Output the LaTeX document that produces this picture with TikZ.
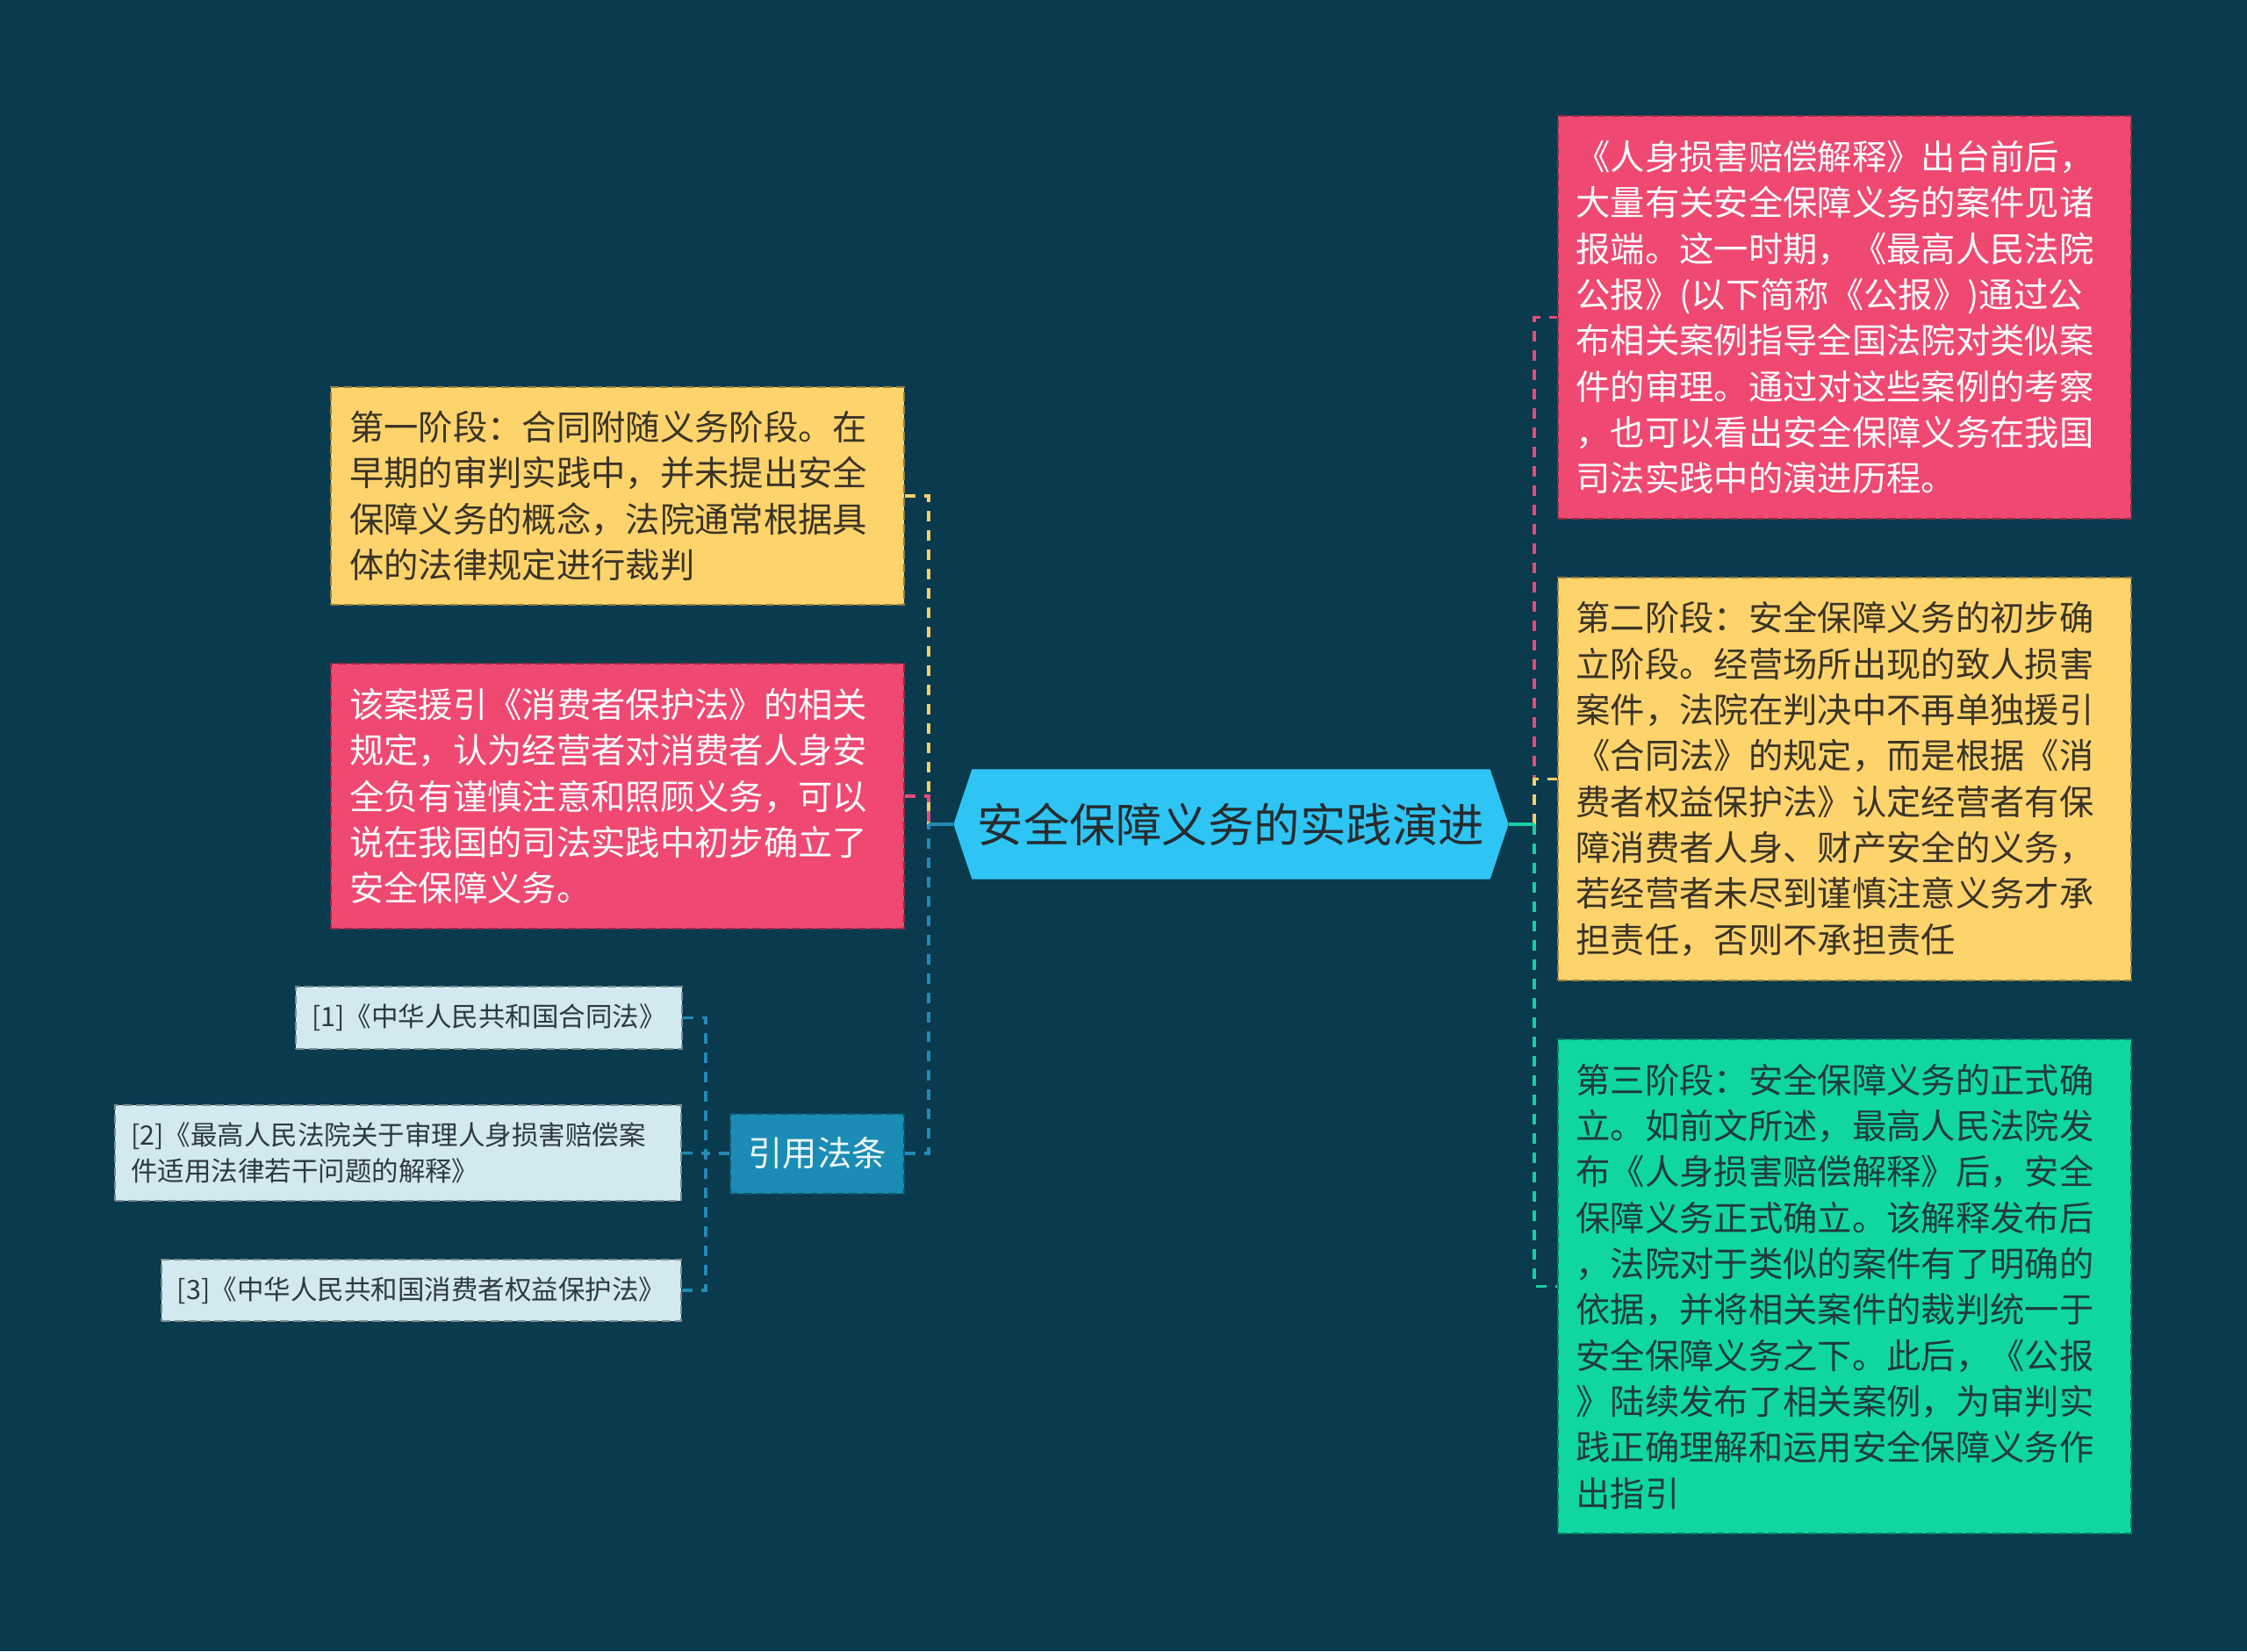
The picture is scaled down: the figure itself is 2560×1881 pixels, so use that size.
\documentclass[tikz,border=0pt]{standalone}
\usepackage{fontspec}
\setmainfont{Noto Sans CJK SC}
\usetikzlibrary{backgrounds}
\definecolor{bgc}{HTML}{093A4D}
\definecolor{yfill}{HTML}{FDD36C}
\definecolor{ytext}{HTML}{3A3426}
\definecolor{pfill}{HTML}{EF4971}
\definecolor{ptext}{HTML}{FFFFFF}
\definecolor{gfill}{HTML}{10D6A1}
\definecolor{gtext}{HTML}{1F3B3A}
\definecolor{hexfill}{HTML}{2EC5F4}
\definecolor{hextext}{HTML}{262C30}
\definecolor{citefill}{HTML}{1A8CB5}
\definecolor{citetext}{HTML}{EEF8FB}
\definecolor{reffill}{HTML}{D2E9F0}
\definecolor{reftext}{HTML}{2D3A40}
\definecolor{yconn}{HTML}{F7D06B}
\definecolor{pconn}{HTML}{E44B78}
\definecolor{bconn}{HTML}{2389B6}
\definecolor{gconn}{HTML}{18CFA0}
\tikzset{
  box/.style={rectangle, inner xsep=6.3pt, inner ysep=0pt, align=left,
    text width=183.3pt, minimum width=195.9pt,
    font=\fontsize{11.8pt}{15.7pt}\selectfont,
    dash pattern=on 3pt off 1.5pt, line width=0.6pt},
  ybox/.style={box, fill=yfill, draw=yfill!60!black, text=ytext},
  pbox/.style={box, fill=pfill, draw=pfill!60!black, text=ptext},
  gbox/.style={box, fill=gfill, draw=gfill!60!black, text=gtext},
  refbox/.style={rectangle, inner xsep=5.4pt, inner ysep=0pt, align=left,
    fill=reffill, draw=reffill!60!black, text=reftext,
    font=\fontsize{9.15pt}{12.3pt}\selectfont,
    dash pattern=on 3pt off 1.5pt, line width=0.6pt},
  citebox/.style={rectangle, inner sep=0pt, fill=citefill, draw=citefill!60!black,
    text=citetext, minimum width=59.4pt, minimum height=27.3pt,
    font=\fontsize{11.8pt}{14pt}\selectfont,
    dash pattern=on 3pt off 1.5pt, line width=0.6pt},
  hexnode/.style={rectangle, inner sep=0pt, minimum width=189.3pt, minimum height=37.2pt,
    text=hextext, font=\fontsize{15.75pt}{18pt}\selectfont},
  conn/.style={line width=1.05pt, dash pattern=on 3.6pt off 3pt},
  solidconn/.style={line width=1.2pt},
}
\begin{document}
\begin{tikzpicture}[x=0.3pt,y=-0.3pt]
\useasboundingbox (0,0) rectangle (2560,1881);
\begin{scope}[on background layer]
\fill[bgc] (0,0) rectangle (2560,1881);
\end{scope}

% central node
\node[hexnode] (hex) at (1402.5,939) {安全保障义务的实践演进};
\begin{scope}[on background layer]
\fill[hexfill] (hex.west) -- ([xshift=6.3pt]hex.north west) -- ([xshift=-6.3pt]hex.north east)
  -- (hex.east) -- ([xshift=-6.3pt]hex.south east) -- ([xshift=6.3pt]hex.south west) -- cycle;
\end{scope}

% left boxes
\node[ybox, minimum height=74.4pt] (L1) at (703.5,565) {第一阶段：合同附随义务阶段。在\\早期的审判实践中，并未提出安全\\保障义务的概念，法院通常根据具\\体的法律规定进行裁判};
\node[pbox, minimum height=90.6pt] (L2) at (703.5,907) {该案援引《消费者保护法》的相关\\规定，认为经营者对消费者人身安\\全负有谨慎注意和照顾义务，可以\\说在我国的司法实践中初步确立了\\安全保障义务。};
\node[citebox] (cite) at (931,1314) {引用法条};

% reference boxes
\node[refbox, minimum width=131.4pt, minimum height=21.3pt] (R1) at (557,1159.5) {[1]《中华人民共和国合同法》};
\node[refbox, text width=182.7pt, minimum width=193.5pt, minimum height=32.7pt] (R2) at (453.5,1313.5) {[2]《最高人民法院关于审理人身损害赔偿案\\件适用法律若干问题的解释》};
\node[refbox, minimum width=177.6pt, minimum height=21pt] (R3) at (480,1470) {[3]《中华人民共和国消费者权益保护法》};

% right boxes
\node[pbox, minimum height=137.7pt] (RP) at (2101,361.5) {《人身损害赔偿解释》出台前后，\\大量有关安全保障义务的案件见诸\\报端。这一时期，《最高人民法院\\公报》(以下简称《公报》)通过公\\布相关案例指导全国法院对类似案\\件的审理。通过对这些案例的考察\\，也可以看出安全保障义务在我国\\司法实践中的演进历程。};
\node[ybox, minimum height=137.7pt] (RY) at (2101,887.5) {第二阶段：安全保障义务的初步确\\立阶段。经营场所出现的致人损害\\案件，法院在判决中不再单独援引\\《合同法》的规定，而是根据《消\\费者权益保护法》认定经营者有保\\障消费者人身、财产安全的义务，\\若经营者未尽到谨慎注意义务才承\\担责任，否则不承担责任};
\node[gbox, minimum height=168.9pt] (RG) at (2101,1465.5) {第三阶段：安全保障义务的正式确\\立。如前文所述，最高人民法院发\\布《人身损害赔偿解释》后，安全\\保障义务正式确立。该解释发布后\\，法院对于类似的案件有了明确的\\依据，并将相关案件的裁判统一于\\安全保障义务之下。此后，《公报\\》陆续发布了相关案例，为审判实\\践正确理解和运用安全保障义务作\\出指引};

% hubs
\coordinate (hubL) at (1058,939);
\coordinate (hubR) at (1748,939);
\coordinate (hubC) at (804,1314);

% left connectors
\draw[conn, yconn] (L1.east) -| (hubL);
\draw[conn, pconn] (L2.east) -| (hubL);
\draw[conn, bconn] (cite.east) -| (hubL);
\draw[solidconn, bconn] (hex.west) -- (hubL);

% right connectors
\draw[conn, pconn] (hubR) |- (RP.west);
\draw[conn, yconn] (hubR) |- (RY.west);
\draw[conn, gconn] (hubR) |- (RG.west);
\draw[solidconn, gconn] (hex.east) -- (hubR);

% citation connectors
\draw[conn, bconn] (cite.west) -- (hubC);
\draw[conn, bconn] (R1.east) -| (hubC);
\draw[conn, bconn] (R2.east) -- (hubC);
\draw[conn, bconn] (R3.east) -| (hubC);
\end{tikzpicture}
\end{document}
